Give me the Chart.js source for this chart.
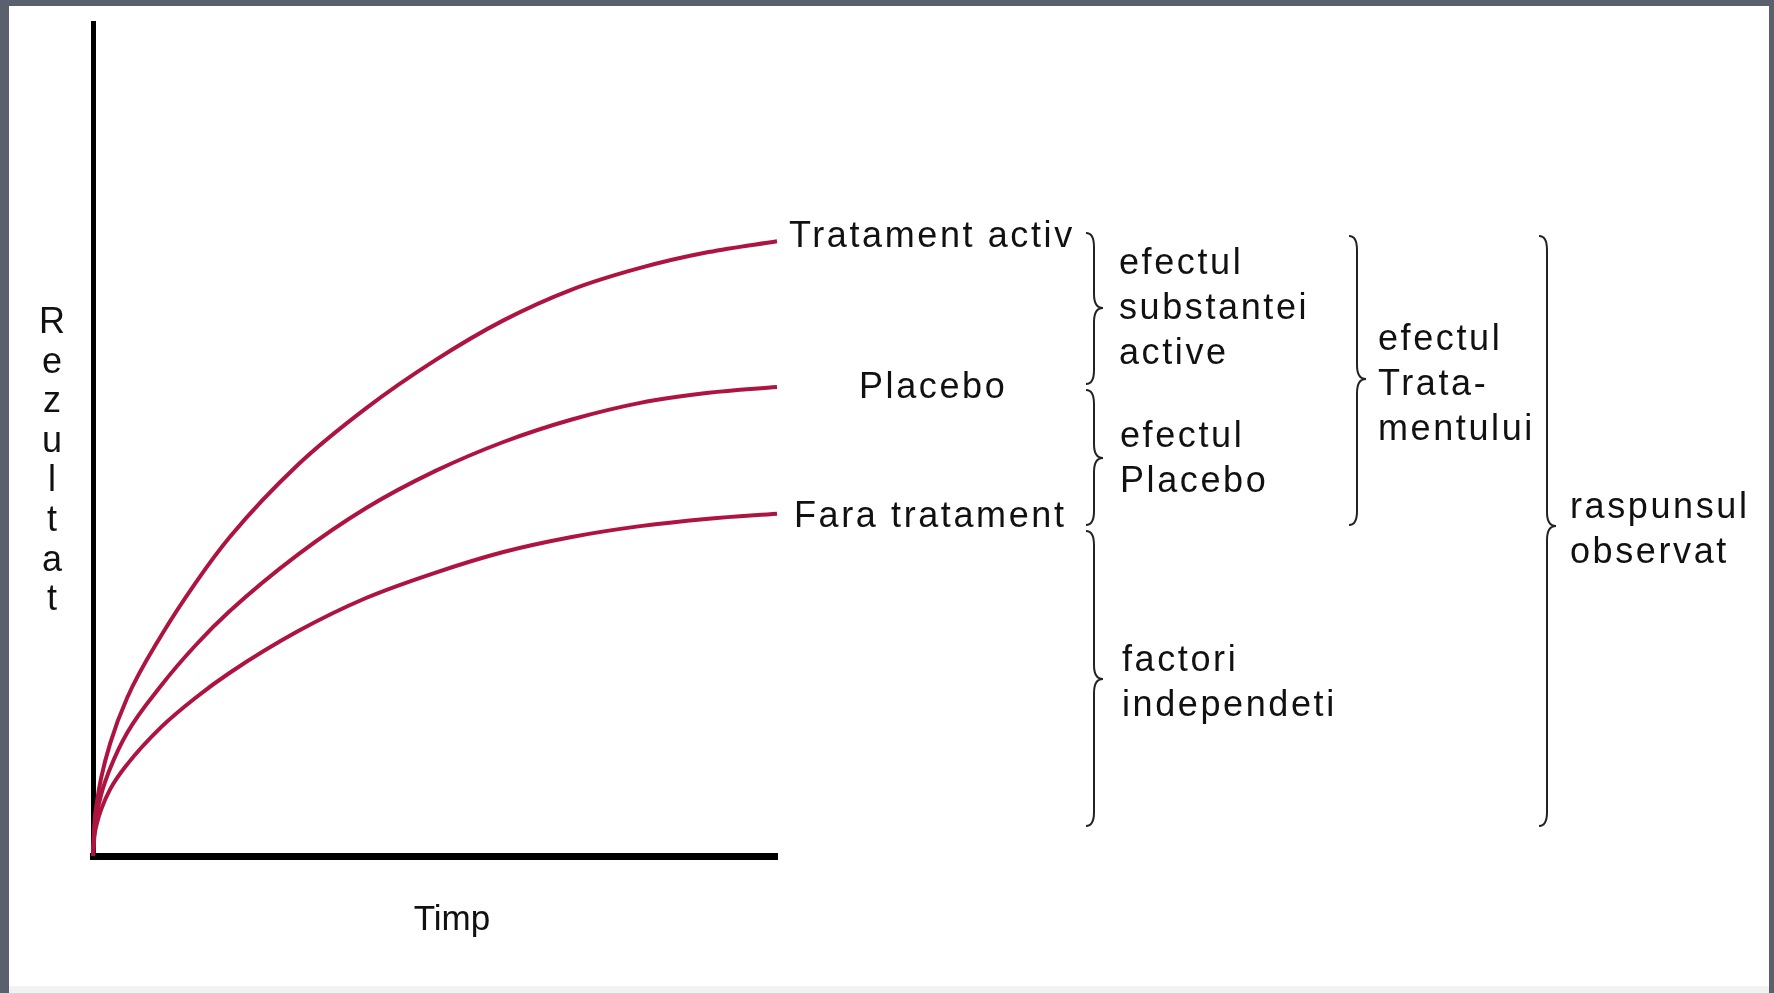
<!DOCTYPE html>
<html>
<head>
<meta charset="utf-8">
<script src="https://cdn.jsdelivr.net/npm/chart.js@4.4.1/dist/chart.umd.min.js"></script>
<style>
  html, body { margin: 0; padding: 0; }
  body { width: 1774px; height: 993px; background: #5a606e; position: relative; overflow: hidden; }
  #sheet { position: absolute; left: 9px; top: 6px; width: 1760px; height: 987px; background: #fff; }
  #strip { position: absolute; left: 9px; top: 986px; width: 1760px; height: 7px; background: #f2f2f2; }
  #chart { position: absolute; left: 0; top: 0; }
</style>
</head>
<body>
<div id="sheet"></div>
<div id="strip"></div>
<canvas id="chart" width="1774" height="993"></canvas>
<script>
// time axis (arbitrary units) and outcome values (0-100 = axis height)
const timeValues = [0, 0.02, 0.06, 0.12, 0.25, 0.5, 1, 1.5, 2, 3, 4, 5, 6, 7, 8, 9, 10];
const activeValues = [0, 3.8, 6.6, 9.4, 13.5, 19, 26.5, 32.8, 38.3, 47, 53.8, 59.5, 64.3, 68, 70.6, 72.5, 73.8];
const placeboValues = [0, 3, 5.2, 7.4, 10.5, 14.8, 20.5, 25.3, 29.4, 36.2, 41.8, 46.2, 49.7, 52.4, 54.4, 55.6, 56.3];
const noTreatValues = [0, 2.3, 4, 5.6, 8, 11, 15.5, 19, 22, 27, 31, 34, 36.5, 38.3, 39.6, 40.5, 41.1];

const curveLabels = ["Tratament activ", "Placebo", "Fara tratament"];
const yTitle = "Rezultat";
const xTitle = "Timp";
const braceGroups = [
  ["efectul", "substantei", "active"],
  ["efectul", "Placebo"],
  ["factori", "independeti"],
  ["efectul", "Trata-", "mentului"],
  ["raspunsul", "observat"]
];

// layout of the annotations (pixels)
const curveLabelPos = [[789, 247], [859, 398], [794, 527]];
const groupTextPos = [[1119, 274], [1120, 447], [1122, 671], [1378, 350], [1570, 518]];
const braceBoxes = [
  { x: 1094, top: 233, bottom: 384, tip: 308 },
  { x: 1094, top: 390, bottom: 525, tip: 458 },
  { x: 1094, top: 531, bottom: 826, tip: 679 },
  { x: 1357, top: 236, bottom: 525, tip: 379 },
  { x: 1547, top: 236, bottom: 826, tip: 526 }
];

const CURVE_COLOR = "#ad1540";
const FONT = "36px 'Liberation Sans', Arial, sans-serif";

function toPoints(values) {
  return timeValues.map((t, i) => ({ x: t, y: values[i] }));
}

function curve(label, values) {
  return {
    label: label,
    data: toPoints(values),
    borderColor: CURVE_COLOR,
    borderWidth: 4,
    pointRadius: 0,
    fill: false,
    cubicInterpolationMode: "monotone",
    clip: false
  };
}

function drawBrace(ctx, b) {
  const hook = 8, tipW = 9, r = 14;
  ctx.beginPath();
  ctx.moveTo(b.x - hook, b.top);
  ctx.quadraticCurveTo(b.x, b.top, b.x, b.top + r);
  ctx.lineTo(b.x, b.tip - r);
  ctx.quadraticCurveTo(b.x, b.tip, b.x + tipW, b.tip);
  ctx.quadraticCurveTo(b.x, b.tip, b.x, b.tip + r);
  ctx.lineTo(b.x, b.bottom - r);
  ctx.quadraticCurveTo(b.x, b.bottom, b.x - hook, b.bottom);
  ctx.stroke();
}

const labelsPlugin = {
  id: "labels",
  afterDraw(chart) {
    const ctx = chart.ctx;
    ctx.save();
    ctx.fillStyle = "#111";
    ctx.font = FONT;
    ctx.textBaseline = "alphabetic";

    // stacked y title
    ctx.textAlign = "center";
    ctx.letterSpacing = "0px";
    yTitle.split("").forEach((ch, i) => ctx.fillText(ch, 52, 333 + i * 39.6));
    ctx.font = "35px 'Liberation Sans', Arial, sans-serif";
    ctx.fillText(xTitle, 452, 930);

    ctx.font = FONT;
    ctx.textAlign = "left";
    ctx.letterSpacing = "2.6px";
    curveLabels.forEach((txt, i) => ctx.fillText(txt, curveLabelPos[i][0], curveLabelPos[i][1]));
    braceGroups.forEach((lines, g) => {
      lines.forEach((txt, j) => ctx.fillText(txt, groupTextPos[g][0], groupTextPos[g][1] + j * 45));
    });

    ctx.strokeStyle = "#222";
    ctx.lineWidth = 2;
    braceBoxes.forEach(b => drawBrace(ctx, b));
    ctx.restore();
  }
};

new Chart(document.getElementById("chart").getContext("2d"), {
  type: "line",
  data: {
    datasets: [
      curve(curveLabels[0], activeValues),
      curve(curveLabels[1], placeboValues),
      curve(curveLabels[2], noTreatValues)
    ]
  },
  options: {
    responsive: false,
    animation: false,
    events: [],
    layout: { padding: { left: 93, right: 997, top: 23, bottom: 137 } },
    plugins: { legend: { display: false }, tooltip: { enabled: false } },
    scales: {
      x: {
        type: "linear", min: 0, max: 10,
        grid: { display: false },
        ticks: { display: false },
        border: { display: true, color: "#000", width: 7 },
        afterFit(scale) { scale.height = 0; }
      },
      y: {
        min: 0, max: 100,
        grid: { display: false },
        ticks: { display: false },
        border: { display: true, color: "#000", width: 5 },
        afterFit(scale) { scale.width = 0; }
      }
    }
  },
  plugins: [labelsPlugin]
});
</script>
</body>
</html>
